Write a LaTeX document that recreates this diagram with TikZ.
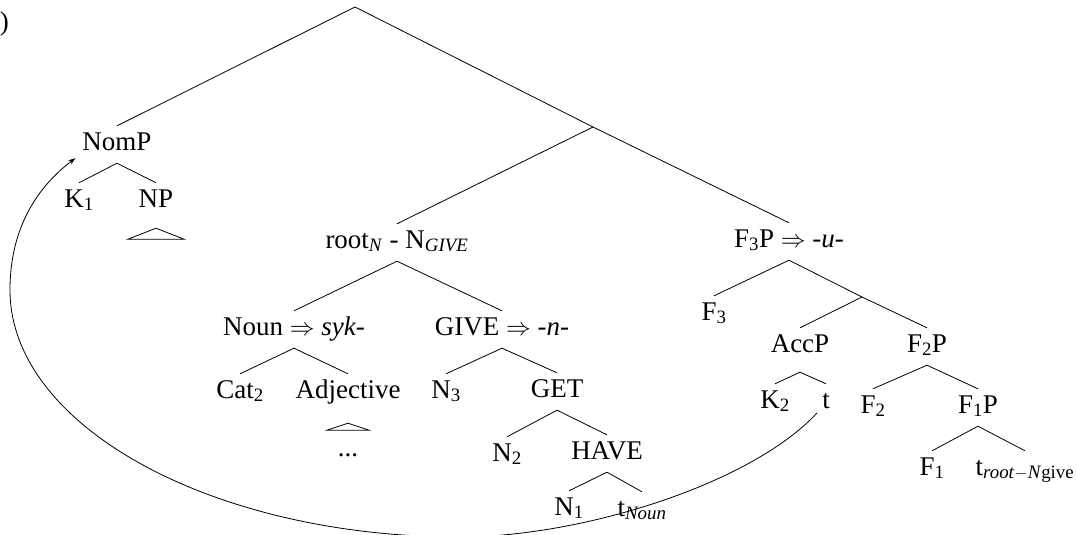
\documentclass[tikz,border=0pt]{standalone}
\usepackage{fontspec}
\setmainfont{Liberation Serif}
\usetikzlibrary{arrows.meta}

\begin{document}
\begin{tikzpicture}[x=1pt,y=-1pt,
  every node/.style={font=\fontsize{27}{32}\selectfont},
  lbl/.style={anchor=base,inner sep=4pt,text height=20pt,text depth=9pt},
  branch/.style={line width=0.8pt}]
\useasboundingbox (0,0) rectangle (1077,535);
\node[anchor=base east,inner sep=0pt] (num) at (9,31) {)};
% branching points without label
\coordinate (top) at (355,7);
\coordinate (mid) at (593,127);
\coordinate (fmid) at (862,297);
% labels
\node[lbl] (NomP) at (117,150) {NomP};
\node[lbl] (K1) at (79,207) {K\textsubscript{1}};
\node[lbl] (NP) at (156,207) {NP};
\node[lbl] (rootN) at (397,248) {root\textsubscript{\textit{N}} - N\textsubscript{\textit{GIVE}}};
\node[lbl] (Noun) at (294,335) {Noun $\Rightarrow$ \textit{syk-}};
\node[lbl] (GIVE) at (502,335) {GIVE $\Rightarrow$ \textit{-n-}};
\node[lbl] (Cat) at (240,398) {Cat\textsubscript{2}};
\node[lbl] (Adj) at (348,398) {Adjective};
\node[lbl] (dots) at (348,456) {...};
\node[lbl] (N3) at (446,398) {N\textsubscript{3}};
\node[lbl] (GET) at (557,397) {GET};
\node[lbl] (N2) at (507,461) {N\textsubscript{2}};
\node[lbl] (HAVE) at (607,459) {HAVE};
\node[lbl] (N1) at (569,515) {N\textsubscript{1}};
\node[lbl] (tNoun) at (642,516) {t\textsubscript{\textit{Noun}}};
\node[lbl] (F3P) at (789,247) {F\textsubscript{3}P $\Rightarrow$ \textit{-u-}};
\node[lbl] (F3) at (714,320) {F\textsubscript{3}};
\node[lbl] (AccP) at (800,352) {AccP};
\node[lbl] (F2P) at (927,352) {F\textsubscript{2}P};
\node[lbl] (K2) at (775,408) {K\textsubscript{2}};
\node[lbl] (tAcc) at (826,408) {t};
\node[lbl] (F2) at (873,413) {F\textsubscript{2}};
\node[lbl] (F1P) at (978,413) {F\textsubscript{1}P};
\node[lbl] (F1) at (932,475) {F\textsubscript{1}};
\node[lbl] (troot) at (1025,475) {t\textsubscript{\textit{root}$-$\textit{N}give}};
% branches
\path[branch] (top) edge (NomP.north) edge (mid);
\path[branch] (mid) edge (rootN.north) edge (F3P.north);
\path[branch] (NomP.south) edge (K1.north) edge (NP.north);
\path[branch] (rootN.south) edge (Noun.north) edge (GIVE.north);
\path[branch] (Noun.south) edge (Cat.north) edge (Adj.north);
\path[branch] (GIVE.south) edge (N3.north) edge (GET.north);
\path[branch] (GET.south) edge (N2.north) edge (HAVE.north);
\path[branch] (HAVE.south) edge (N1.north) edge (tNoun.north);
\path[branch] (F3P.south) edge (F3.north) edge (fmid);
\path[branch] (fmid) edge (AccP.north) edge (F2P.north);
\path[branch] ([yshift=-7pt]AccP.south) edge (K2.north) edge (tAcc.north);
\path[branch] (F2P.south) edge (F2.north) edge (F1P.north);
\path[branch] (F1P.south) edge (F1.north) edge (troot.north);
% triangles
\draw[branch] ([yshift=-8pt]NP.south) -- ++(28,11) -- ++(-56,0) -- cycle;
\draw[branch] ([yshift=-12pt]Adj.south) -- ++(21,7) -- ++(-42,0) -- cycle;
% movement
\draw[branch,-{Stealth[length=7pt,width=5pt]}] ([shift={(-9pt,-5pt)}]tAcc.base)
  .. controls (750,485) and (580,537) .. (460,537)
  .. controls (212,537) and (10,426) .. (10,290)
  .. controls (10,225) and (40,185) .. ([shift={(-3pt,5pt)}]NomP.south west);
\end{tikzpicture}
\end{document}
